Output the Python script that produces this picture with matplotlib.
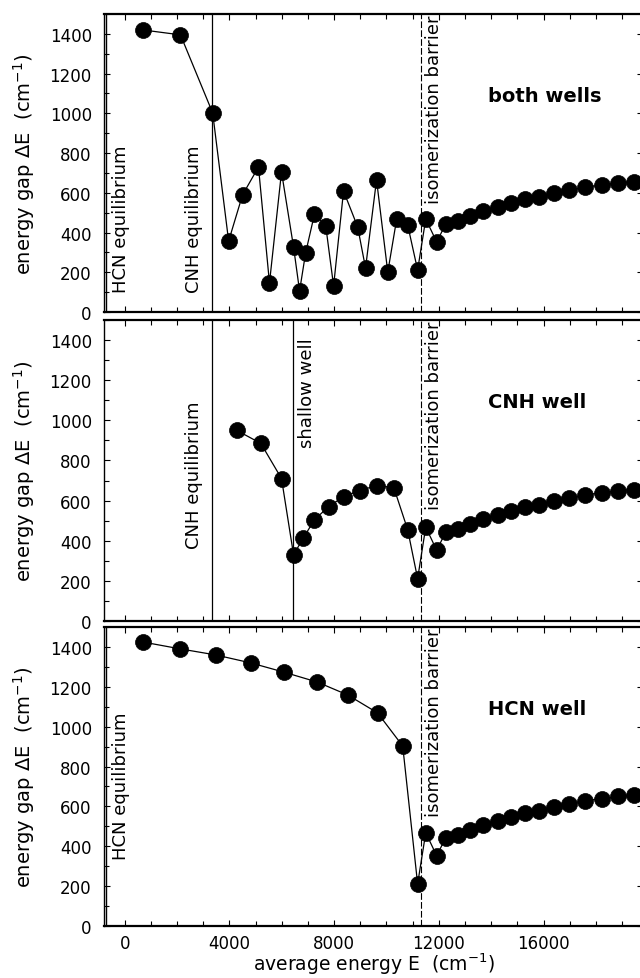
import matplotlib
matplotlib.use("Agg")
import matplotlib.pyplot as plt
from matplotlib.ticker import MultipleLocator

plt.rcParams['font.family'] = ['DejaVu Sans']
plt.rcParams['mathtext.fontset'] = 'dejavusans'

# ---- data ----
# shared region above the isomerization barrier
E_tail = [11190, 11500, 11920, 12260, 12720, 13180, 13680, 14250, 14750,
          15290, 15820, 16390, 16970, 17580, 18230, 18840, 19450]
dE_tail = [211, 468, 352, 443, 458, 483, 509, 529, 549, 569, 579, 599, 614,
           629, 639, 650, 655]

# both wells
E_both = [680, 2130, 3360, 3970, 4500, 5110, 5530, 5990, 6450, 6680, 6910,
          7250, 7680, 7980, 8360, 8900, 9200, 9620, 10050, 10390, 10810]
dE_both = [1420, 1395, 1002, 357, 589, 730, 146, 705, 327, 106, 297, 493,
           433, 131, 609, 428, 221, 665, 201, 468, 438]

# CNH well
E_cnh = [4280, 5200, 5990, 6450, 6830, 7250, 7790, 8360, 8980, 9620, 10280,
         10810]
dE_cnh = [950, 885, 710, 330, 415, 505, 570, 620, 650, 675, 665, 455]

# HCN well
E_hcn = [680, 2130, 3470, 4810, 6070, 7350, 8520, 9660, 10620]
dE_hcn = [1425, 1390, 1360, 1320, 1274, 1224, 1159, 1069, 903]

# reference energies (vertical lines)
E_hcn_eq = -700
E_cnh_eq = 3330
E_shallow = 6420
E_barrier = 11300

panel_titles = ["both wells", "CNH well", "HCN well"]
xticks = [0, 4000, 8000, 12000, 16000]
yticks = [0, 200, 400, 600, 800, 1000, 1200, 1400]

series = [
    (E_both + E_tail, dE_both + dE_tail),
    (E_cnh + E_tail, dE_cnh + dE_tail),
    (E_hcn + E_tail, dE_hcn + dE_tail),
]

W, H = 640, 979
fig = plt.figure(figsize=(W / 100, H / 100), dpi=100)

# panel pixel extents (top, bottom)
panels_px = [(15, 313), (321, 622), (628, 927)]
left_px, right_px = 104.3, 643

axes = []
for (top, bot) in panels_px:
    ax = fig.add_axes([left_px / W, (H - bot) / H, (right_px - left_px) / W,
                       (bot - top) / H])
    axes.append(ax)

for i, ax in enumerate(axes):
    x, y = series[i]
    ax.plot(x, y, '-', color='black', lw=0.9, marker='o', ms=11.5,
            mfc='black', mec='black', mew=0.5, zorder=3)
    ax.set_xlim(-780, 19800)
    ax.set_ylim(0, 1500)
    ax.set_xticks(xticks)
    ax.xaxis.set_minor_locator(MultipleLocator(1000))
    ax.set_yticks(yticks)
    ax.yaxis.set_minor_locator(MultipleLocator(100))
    ax.tick_params(axis='both', which='both', direction='in', top=True,
                   right=True, width=0.8, labelsize=12)
    ax.tick_params(axis='both', which='major', length=4.5)
    ax.tick_params(axis='both', which='minor', length=3.5)
    ax.tick_params(axis='y', which='minor', right=False)
    ax.tick_params(axis='y', which='major', pad=9)
    ax.tick_params(axis='x', which='major', pad=6)
    for s in ['top', 'bottom']:
        ax.spines[s].set_linewidth(1.6)
    ax.spines['left'].set_linewidth(1.0)
    ax.spines['right'].set_linewidth(1.0)
    if i < 2:
        ax.tick_params(axis='x', labelbottom=False)
    ax.set_ylabel('energy gap ΔE  (cm$^{-1}$)', fontsize=14)
    ax.yaxis.set_label_coords(-0.125, 0.5)
    # barrier line
    ax.axvline(E_barrier, color='black', lw=0.8, ls=(0, (6, 2)), zorder=1)
    ax.text(11820, 1498, 'isomerization barrier', rotation=90, fontsize=13,
            ha='center', va='top')

# panel 1
a = axes[0]
a.axvline(E_hcn_eq, color='black', lw=1.0, zorder=1)
a.axvline(E_cnh_eq, color='black', lw=0.9, zorder=1)
a.text(-126, 100, 'HCN equilibrium', rotation=90, fontsize=13,
       ha='center', va='bottom')
a.text(2665, 100, 'CNH equilibrium', rotation=90, fontsize=13,
       ha='center', va='bottom')
a.text(16050, 1088, panel_titles[0], fontsize=14, fontweight='bold',
       ha='center', va='center')

# panel 2
a = axes[1]
a.axvline(E_cnh_eq, color='black', lw=0.9, zorder=1)
a.axvline(E_shallow, color='black', lw=0.9, zorder=1)
a.text(2665, 365, 'CNH equilibrium', rotation=90, fontsize=13,
       ha='center', va='bottom')
a.text(6950, 1415, 'shallow well', rotation=90, fontsize=13,
       ha='center', va='top')
a.text(15770, 1095, panel_titles[1], fontsize=14, fontweight='bold',
       ha='center', va='center')

# panel 3
a = axes[2]
a.axvline(E_hcn_eq, color='black', lw=1.0, zorder=1)
a.text(-126, 336, 'HCN equilibrium', rotation=90, fontsize=13,
       ha='center', va='bottom')
a.text(15770, 1089, panel_titles[2], fontsize=14, fontweight='bold',
       ha='center', va='center')
a.set_xlabel('average energy E  (cm$^{-1}$)', fontsize=13.5)
a.xaxis.set_label_coords(0.5, -0.082)

fig.savefig('out.png', dpi=100)
